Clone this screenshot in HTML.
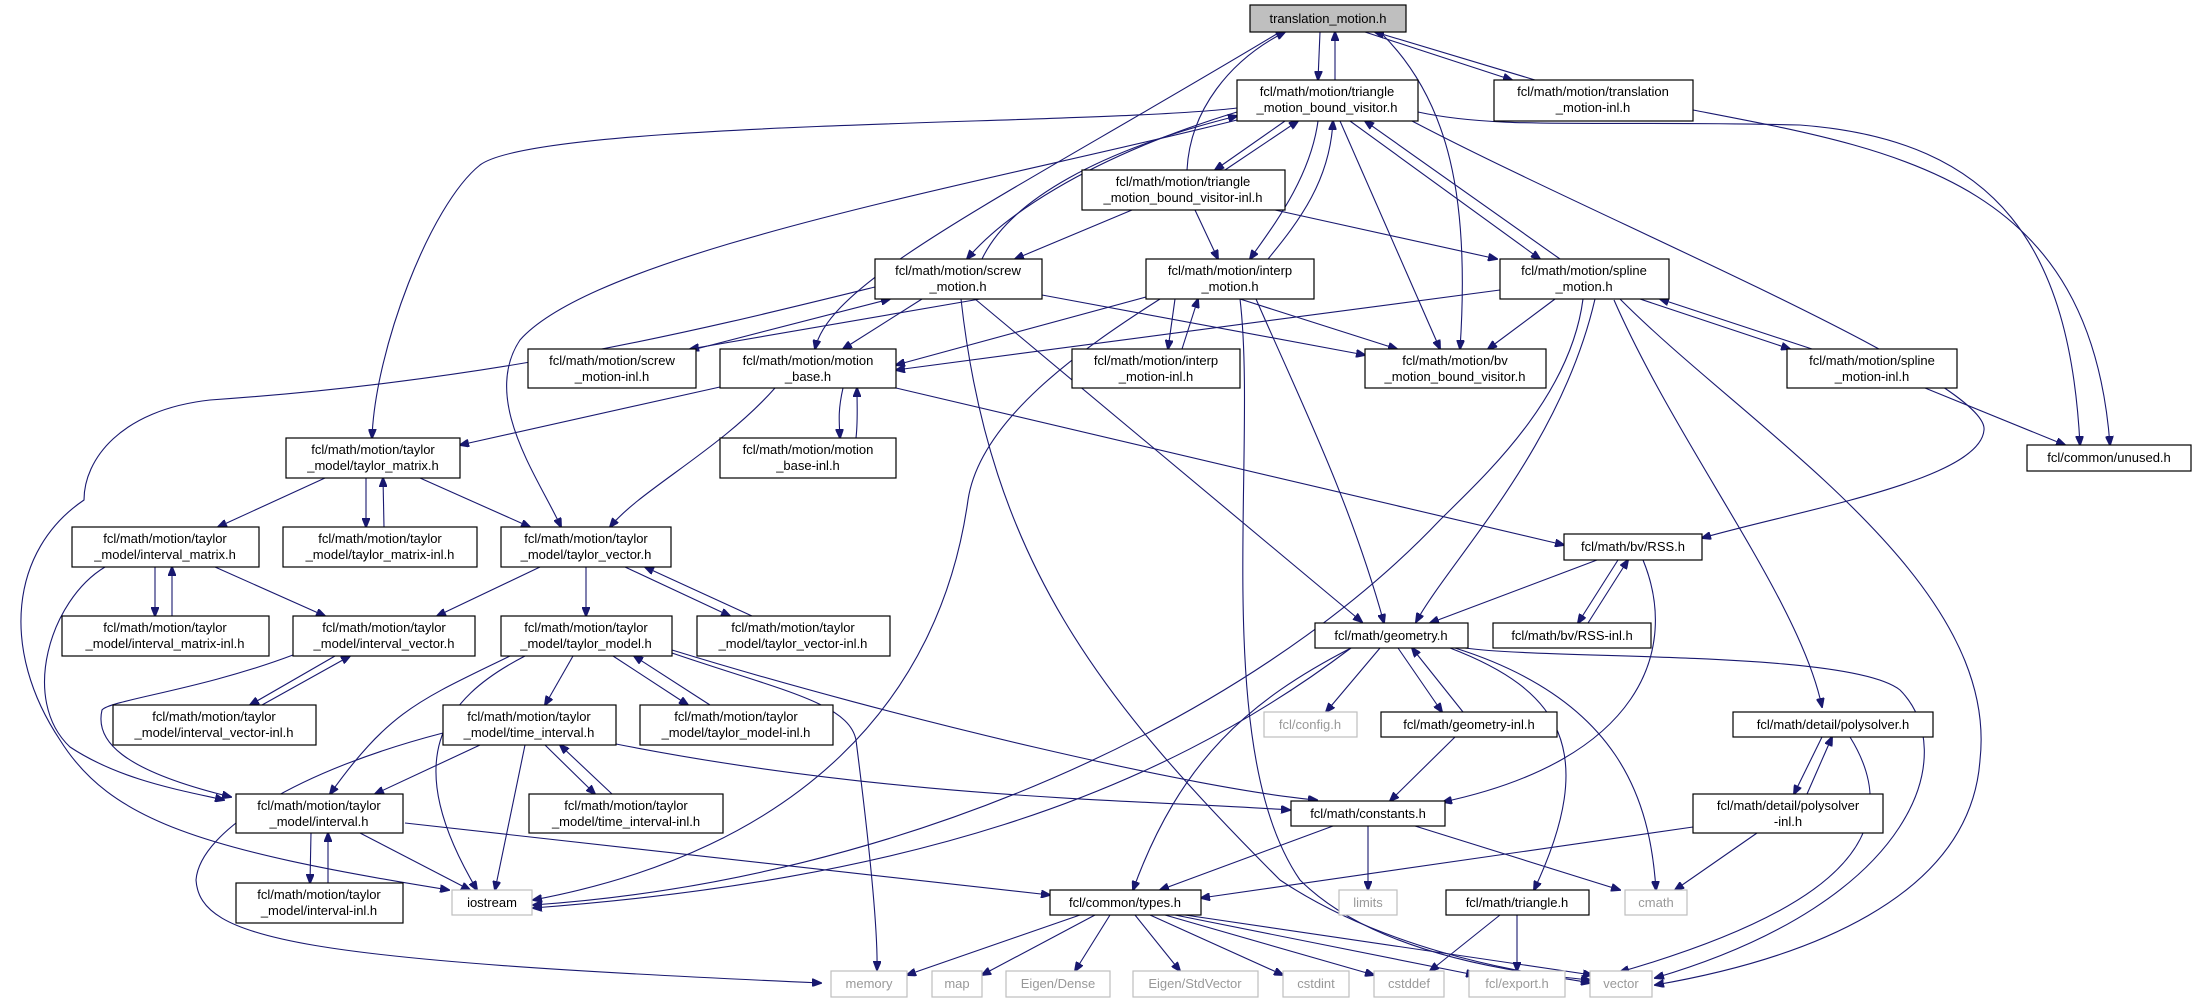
<!DOCTYPE html>
<html><head><meta charset="utf-8"><style>
html,body{margin:0;padding:0;background:#fff;}
svg{display:block;}
text{font-family:"Liberation Sans","DejaVu Sans",sans-serif;font-size:13px;fill:#000;text-anchor:middle;}
.n{fill:#fff;stroke:#000;stroke-width:1.2;}
.g{fill:#fff;stroke:#bfbfbf;stroke-width:1.2;}
path{fill:none;stroke:#191970;stroke-width:1.1;}
</style></head><body>
<svg width="2196" height="1005" viewBox="0 0 2196 1005" xmlns="http://www.w3.org/2000/svg">
<defs><marker id="a" markerWidth="10" markerHeight="8" refX="9" refY="4" orient="auto" markerUnits="userSpaceOnUse"><path d="M0,0 L10,4 L0,8 Z" style="fill:#191970;stroke:#191970"/></marker></defs>
<g marker-end="url(#a)">
<path d="M1320,32 L1318,80"/>
<path d="M1335,80 L1335,32"/>
<path d="M1365,32 L1512,80"/>
<path d="M1535,80 L1375,32"/>
<path d="M1380,32 C1450,100 1470,200 1460,349"/>
<path d="M1280,32 C1000,200 830,280 815,349"/>
<path d="M1187,170 C1190,110 1230,60 1285,32"/>
<path d="M1693,110 C1900,150 2090,180 2110,445"/>
<path d="M1418,112 C1500,130 1600,120 1800,125 C2000,140 2070,250 2080,445"/>
<path d="M1412,121 C1600,220 1990,380 1984,430 C1980,480 1800,510 1702,538"/>
<path d="M1285,121 L1215,170"/>
<path d="M1225,170 L1298,121"/>
<path d="M1237,112 C1080,160 1000,220 967,259"/>
<path d="M982,259 C1010,200 1100,150 1237,116"/>
<path d="M1132,210 L1015,259"/>
<path d="M1195,210 L1218,259"/>
<path d="M1275,210 L1497,259"/>
<path d="M1318,121 C1310,180 1270,230 1250,259"/>
<path d="M1268,259 C1300,220 1330,180 1333,121"/>
<path d="M1350,121 L1540,259"/>
<path d="M1560,259 L1365,121"/>
<path d="M1340,121 L1440,349"/>
<path d="M1237,108 C1100,125 540,120 480,165 C430,205 375,350 372,438"/>
<path d="M1237,120 C1000,180 600,250 520,340 C480,400 540,480 561,527"/>
<path d="M875,287 C700,330 500,380 210,400 C120,410 84,460 84,500 C10,550 0,650 60,740 C110,820 200,850 449,890"/>
<path d="M980,299 L690,349"/>
<path d="M696,349 L890,299"/>
<path d="M922,299 L843,349"/>
<path d="M1042,295 L1365,355"/>
<path d="M961,299 C990,560 1100,700 1280,880 C1400,960 1550,975 1590,983"/>
<path d="M975,299 L1362,622"/>
<path d="M1146,297 L896,365"/>
<path d="M1160,299 C1080,350 980,420 968,500 C940,700 800,850 533,900"/>
<path d="M1175,299 L1168,349"/>
<path d="M1182,349 L1198,299"/>
<path d="M1240,299 L1397,349"/>
<path d="M1256,299 C1300,400 1350,500 1384,623"/>
<path d="M1240,299 C1258,450 1210,750 1300,880 C1380,960 1540,975 1590,980"/>
<path d="M1500,290 L896,370"/>
<path d="M1555,299 L1488,349"/>
<path d="M1583,299 C1570,400 1480,480 1440,520 C1250,720 900,880 533,905"/>
<path d="M1595,299 C1560,450 1450,560 1416,622"/>
<path d="M1614,300 C1680,450 1800,600 1822,707"/>
<path d="M1620,299 C1750,430 2000,580 1980,760 C1970,900 1800,960 1655,985"/>
<path d="M1640,299 L1790,349"/>
<path d="M1812,349 L1660,299"/>
<path d="M1925,388 L2065,445"/>
<path d="M843,388 C838,410 839,420 840,438"/>
<path d="M856,438 C858,420 857,410 857,388"/>
<path d="M720,387 L460,445"/>
<path d="M775,388 C720,450 640,490 610,527"/>
<path d="M896,388 L1564,545"/>
<path d="M325,478 L218,527"/>
<path d="M366,478 L366,527"/>
<path d="M384,527 L383,478"/>
<path d="M420,478 L530,527"/>
<path d="M155,567 L155,616"/>
<path d="M172,616 L172,567"/>
<path d="M215,567 L325,616"/>
<path d="M105,567 C50,600 20,700 70,747 C120,780 180,790 224,800"/>
<path d="M540,567 L437,616"/>
<path d="M586,567 L586,616"/>
<path d="M625,567 L730,616"/>
<path d="M752,616 L645,567"/>
<path d="M293,655 C200,690 110,700 102,710 C95,740 120,770 231,797"/>
<path d="M335,656 L250,705"/>
<path d="M262,705 L350,656"/>
<path d="M510,656 C420,700 390,710 330,794"/>
<path d="M525,656 C440,700 400,760 477,890"/>
<path d="M573,656 L545,705"/>
<path d="M613,656 L688,705"/>
<path d="M710,705 L634,656"/>
<path d="M672,653 C780,690 849,703 856,740 C870,850 878,930 877,970"/>
<path d="M672,650 C900,720 1200,790 1317,800"/>
<path d="M480,745 L375,794"/>
<path d="M443,733 C300,770 200,830 196,880 C200,940 300,960 821,983"/>
<path d="M525,745 L495,890"/>
<path d="M545,745 L595,794"/>
<path d="M612,794 L560,745"/>
<path d="M616,744 C900,800 1150,800 1290,810"/>
<path d="M311,833 L310,883"/>
<path d="M328,883 L328,833"/>
<path d="M360,833 L470,890"/>
<path d="M405,823 L1050,895"/>
<path d="M1351,648 C1150,800 900,880 533,908"/>
<path d="M1380,648 L1326,712"/>
<path d="M1398,648 L1442,712"/>
<path d="M1463,712 L1412,648"/>
<path d="M1351,648 C1250,700 1180,760 1133,890"/>
<path d="M1450,648 C1560,690 1600,750 1534,890"/>
<path d="M1455,648 C1620,700 1650,800 1656,890"/>
<path d="M1465,648 C1550,660 1850,650 1900,690 C1960,750 1920,900 1655,978"/>
<path d="M1597,560 L1430,623"/>
<path d="M1618,560 L1578,623"/>
<path d="M1588,623 L1628,560"/>
<path d="M1643,560 C1680,650 1640,760 1443,802"/>
<path d="M1455,737 L1390,801"/>
<path d="M1333,826 L1160,890"/>
<path d="M1368,826 L1368,890"/>
<path d="M1415,826 L1620,890"/>
<path d="M1822,737 L1794,794"/>
<path d="M1807,794 L1832,737"/>
<path d="M1693,827 L1201,898"/>
<path d="M1757,833 L1675,890"/>
<path d="M1850,737 C1920,850 1800,920 1620,972"/>
<path d="M1500,915 L1430,971"/>
<path d="M1517,915 L1517,971"/>
<path d="M1080,915 L907,975"/>
<path d="M1095,915 L982,975"/>
<path d="M1110,915 L1075,971"/>
<path d="M1135,915 L1180,971"/>
<path d="M1150,915 L1283,975"/>
<path d="M1165,915 L1374,975"/>
<path d="M1175,915 L1475,975"/>
<path d="M1185,915 L1592,975"/>
</g>
<!-- nodes -->
<rect x="1250" y="5" width="156" height="27" style="fill:#bfbfbf;stroke:#000;stroke-width:1.2"/><text x="1328" y="23">translation_motion.h</text>
<rect class="n" x="1237" y="80" width="181" height="41"/><text x="1327" y="96">fcl/math/motion/triangle</text><text x="1327" y="112">_motion_bound_visitor.h</text>
<rect class="n" x="1494" y="80" width="199" height="41"/><text x="1593" y="96">fcl/math/motion/translation</text><text x="1593" y="112">_motion-inl.h</text>
<rect class="n" x="1082" y="170" width="203" height="40"/><text x="1183" y="186">fcl/math/motion/triangle</text><text x="1183" y="202">_motion_bound_visitor-inl.h</text>
<rect class="n" x="875" y="259" width="167" height="40"/><text x="958" y="275">fcl/math/motion/screw</text><text x="958" y="291">_motion.h</text>
<rect class="n" x="1146" y="259" width="168" height="40"/><text x="1230" y="275">fcl/math/motion/interp</text><text x="1230" y="291">_motion.h</text>
<rect class="n" x="1500" y="259" width="169" height="40"/><text x="1584" y="275">fcl/math/motion/spline</text><text x="1584" y="291">_motion.h</text>
<rect class="n" x="528" y="349" width="168" height="39"/><text x="612" y="365">fcl/math/motion/screw</text><text x="612" y="381">_motion-inl.h</text>
<rect class="n" x="720" y="349" width="176" height="39"/><text x="808" y="365">fcl/math/motion/motion</text><text x="808" y="381">_base.h</text>
<rect class="n" x="1072" y="349" width="168" height="39"/><text x="1156" y="365">fcl/math/motion/interp</text><text x="1156" y="381">_motion-inl.h</text>
<rect class="n" x="1365" y="349" width="181" height="39"/><text x="1455" y="365">fcl/math/motion/bv</text><text x="1455" y="381">_motion_bound_visitor.h</text>
<rect class="n" x="1787" y="349" width="170" height="39"/><text x="1872" y="365">fcl/math/motion/spline</text><text x="1872" y="381">_motion-inl.h</text>
<rect class="n" x="2027" y="445" width="164" height="26"/><text x="2109" y="462">fcl/common/unused.h</text>
<rect class="n" x="286" y="438" width="174" height="40"/><text x="373" y="454">fcl/math/motion/taylor</text><text x="373" y="470">_model/taylor_matrix.h</text>
<rect class="n" x="720" y="438" width="176" height="40"/><text x="808" y="454">fcl/math/motion/motion</text><text x="808" y="470">_base-inl.h</text>
<rect class="n" x="72" y="527" width="187" height="40"/><text x="165" y="543">fcl/math/motion/taylor</text><text x="165" y="559">_model/interval_matrix.h</text>
<rect class="n" x="283" y="527" width="194" height="40"/><text x="380" y="543">fcl/math/motion/taylor</text><text x="380" y="559">_model/taylor_matrix-inl.h</text>
<rect class="n" x="501" y="527" width="170" height="40"/><text x="586" y="543">fcl/math/motion/taylor</text><text x="586" y="559">_model/taylor_vector.h</text>
<rect class="n" x="62" y="616" width="207" height="40"/><text x="165" y="632">fcl/math/motion/taylor</text><text x="165" y="648">_model/interval_matrix-inl.h</text>
<rect class="n" x="293" y="616" width="182" height="40"/><text x="384" y="632">fcl/math/motion/taylor</text><text x="384" y="648">_model/interval_vector.h</text>
<rect class="n" x="501" y="616" width="171" height="40"/><text x="586" y="632">fcl/math/motion/taylor</text><text x="586" y="648">_model/taylor_model.h</text>
<rect class="n" x="697" y="616" width="193" height="40"/><text x="793" y="632">fcl/math/motion/taylor</text><text x="793" y="648">_model/taylor_vector-inl.h</text>
<rect class="n" x="113" y="705" width="203" height="40"/><text x="214" y="721">fcl/math/motion/taylor</text><text x="214" y="737">_model/interval_vector-inl.h</text>
<rect class="n" x="443" y="705" width="173" height="40"/><text x="529" y="721">fcl/math/motion/taylor</text><text x="529" y="737">_model/time_interval.h</text>
<rect class="n" x="640" y="705" width="193" height="40"/><text x="736" y="721">fcl/math/motion/taylor</text><text x="736" y="737">_model/taylor_model-inl.h</text>
<rect class="n" x="236" y="794" width="167" height="39"/><text x="319" y="810">fcl/math/motion/taylor</text><text x="319" y="826">_model/interval.h</text>
<rect class="n" x="529" y="794" width="194" height="39"/><text x="626" y="810">fcl/math/motion/taylor</text><text x="626" y="826">_model/time_interval-inl.h</text>
<rect class="n" x="236" y="883" width="167" height="40"/><text x="319" y="899">fcl/math/motion/taylor</text><text x="319" y="915">_model/interval-inl.h</text>
<rect class="g" x="452" y="890" width="80" height="25"/><text x="492" y="907">iostream</text>
<rect class="n" x="1564" y="534" width="138" height="26"/><text x="1633" y="551">fcl/math/bv/RSS.h</text>
<rect class="n" x="1315" y="623" width="153" height="25"/><text x="1391" y="640">fcl/math/geometry.h</text>
<rect class="n" x="1493" y="623" width="158" height="25"/><text x="1572" y="640">fcl/math/bv/RSS-inl.h</text>
<rect class="g" x="1264" y="712" width="93" height="25"/><text x="1310" y="729" style="fill:#999">fcl/config.h</text>
<rect class="n" x="1381" y="712" width="176" height="25"/><text x="1469" y="729">fcl/math/geometry-inl.h</text>
<rect class="n" x="1733" y="712" width="200" height="25"/><text x="1833" y="729">fcl/math/detail/polysolver.h</text>
<rect class="n" x="1291" y="801" width="154" height="25"/><text x="1368" y="818">fcl/math/constants.h</text>
<rect class="n" x="1693" y="794" width="190" height="39"/><text x="1788" y="810">fcl/math/detail/polysolver</text><text x="1788" y="826">-inl.h</text>
<rect class="n" x="1050" y="890" width="151" height="25"/><text x="1125" y="907">fcl/common/types.h</text>
<rect class="g" x="1339" y="890" width="58" height="25"/><text x="1368" y="907" style="fill:#999">limits</text>
<rect class="n" x="1446" y="890" width="143" height="25"/><text x="1517" y="907">fcl/math/triangle.h</text>
<rect class="g" x="1625" y="890" width="62" height="25"/><text x="1656" y="907" style="fill:#999">cmath</text>
<rect class="g" x="831" y="971" width="76" height="26"/><text x="869" y="988" style="fill:#999">memory</text>
<rect class="g" x="932" y="971" width="50" height="26"/><text x="957" y="988" style="fill:#999">map</text>
<rect class="g" x="1006" y="971" width="104" height="26"/><text x="1058" y="988" style="fill:#999">Eigen/Dense</text>
<rect class="g" x="1133" y="971" width="125" height="26"/><text x="1195" y="988" style="fill:#999">Eigen/StdVector</text>
<rect class="g" x="1283" y="971" width="66" height="26"/><text x="1316" y="988" style="fill:#999">cstdint</text>
<rect class="g" x="1374" y="971" width="70" height="26"/><text x="1409" y="988" style="fill:#999">cstddef</text>
<rect class="g" x="1469" y="971" width="96" height="26"/><text x="1517" y="988" style="fill:#999">fcl/export.h</text>
<rect class="g" x="1590" y="971" width="62" height="26"/><text x="1621" y="988" style="fill:#999">vector</text>
</svg>
</body></html>
